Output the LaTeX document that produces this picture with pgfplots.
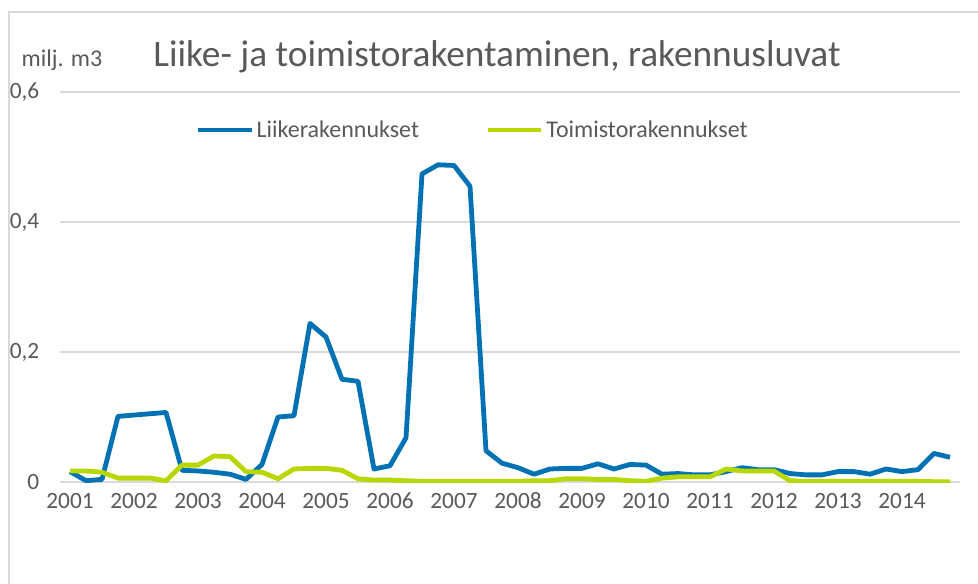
\documentclass[border=0pt]{standalone}
\usepackage{pgfplots}
\pgfplotsset{compat=1.18}
\usepackage{fontspec}
\setmainfont{Carlito}
\definecolor{cblue}{RGB}{0,114,180}
\definecolor{cgreen}{RGB}{184,214,0}
\definecolor{ctext}{RGB}{89,89,89}
\definecolor{cgrid}{RGB}{217,217,217}
\begin{document}
\begin{tikzpicture}[x=0.75pt,y=0.75pt]
\useasboundingbox (0,0) rectangle (978,583);
\draw[cgrid,line width=1.2pt] (9,-20) -- (9,571) -- (1000,571);
\node[anchor=center,text=ctext,font=\fontsize{18}{21}\selectfont] at (62,523) {milj. m3};
\node[anchor=center,text=ctext,font=\fontsize{28}{32}\selectfont] at (497,526) {Liike- ja toimistorakentaminen, rakennusluvat};
\begin{axis}[
  at={(45pt,75.75pt)}, anchor=south west,
  scale only axis, width=675pt, height=292.5pt,
  xmin=-0.625, xmax=55.625, ymin=0, ymax=0.6,
  axis line style={draw=none},
  axis x line*=bottom,
  ytick={0,0.2,0.4,0.6},
  xtick={0,4,...,52},
  xticklabels={2001,2002,2003,2004,2005,2006,2007,2008,2009,2010,2011,2012,2013,2014},
  ymajorgrids, grid style={cgrid,line width=1pt},
  major tick length=0pt,
  tick label style={text=ctext,font=\fontsize{17.5}{20}\selectfont},
  /pgf/number format/assume math mode=true,
  /pgf/number format/use comma,
  /pgf/number format/fixed,
  yticklabel style={xshift=-12pt},
  xticklabel style={yshift=-4pt,text height=12pt,text depth=3pt},
  legend columns=2,
  legend style={draw=none,fill=none,at={(0.459,0.9026)},anchor=center,
    font=\fontsize{18}{21}\selectfont,text=ctext,
    /tikz/every even column/.append style={column sep=48pt}},
  legend image code/.code={\draw[#1,line width=3.6pt] (0cm,0cm) -- (40pt,0cm);},
]
\draw[cgrid,line width=1.2pt] (axis cs:-0.625,0) -- (axis cs:55.625,0);
\addplot[cblue,line width=3.6pt,line join=round] coordinates {
(0,0.016)(1,0.002)(2,0.004)(3,0.101)(4,0.103)(5,0.105)(6,0.107)(7,0.018)
(8,0.017)(9,0.015)(10,0.012)(11,0.004)(12,0.027)(13,0.100)(14,0.102)(15,0.244)
(16,0.223)(17,0.158)(18,0.155)(19,0.020)(20,0.025)(21,0.068)(22,0.474)(23,0.488)
(24,0.487)(25,0.455)(26,0.048)(27,0.029)(28,0.022)(29,0.012)(30,0.020)(31,0.021)
(32,0.021)(33,0.028)(34,0.020)(35,0.027)(36,0.026)(37,0.012)(38,0.013)(39,0.011)
(40,0.011)(41,0.016)(42,0.022)(43,0.019)(44,0.019)(45,0.013)(46,0.011)(47,0.011)
(48,0.016)(49,0.016)(50,0.012)(51,0.020)(52,0.016)(53,0.019)(54,0.044)(55,0.038)
};
\addlegendentry{Liikerakennukset}
\addplot[cgreen,line width=3.6pt,line join=round] coordinates {
(0,0.017)(1,0.017)(2,0.015)(3,0.006)(4,0.006)(5,0.006)(6,0.002)(7,0.026)
(8,0.026)(9,0.040)(10,0.039)(11,0.016)(12,0.015)(13,0.005)(14,0.020)(15,0.021)
(16,0.021)(17,0.018)(18,0.005)(19,0.003)(20,0.003)(21,0.002)(22,0.001)(23,0.001)
(24,0.001)(25,0.001)(26,0.001)(27,0.001)(28,0.001)(29,0.002)(30,0.002)(31,0.005)
(32,0.005)(33,0.004)(34,0.004)(35,0.002)(36,0.001)(37,0.006)(38,0.008)(39,0.008)
(40,0.008)(41,0.020)(42,0.017)(43,0.017)(44,0.017)(45,0.002)(46,0.001)(47,0.001)
(48,0.001)(49,0.001)(50,0.001)(51,0.001)(52,0.001)(53,0.001)(54,0.0005)(55,0.0005)
};
\addlegendentry{Toimistorakennukset}
\end{axis}
\end{tikzpicture}
\end{document}
